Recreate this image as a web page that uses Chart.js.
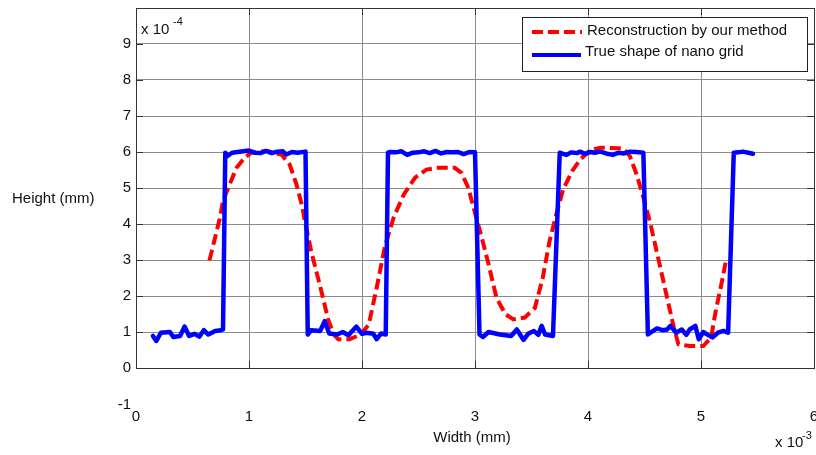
<!DOCTYPE html>
<html><head><meta charset="utf-8">
<script src="https://cdn.jsdelivr.net/npm/chart.js@4.4.0/dist/chart.umd.min.js"></script>
<style>html,body{margin:0;padding:0;background:#fff;}canvas{display:block;}</style>
</head><body>
<canvas id="c" width="816" height="455"></canvas>
<script>
// Units: x in 10^-3 mm, y in 10^-4 mm
const xTickValues = [0, 1, 2, 3, 4, 5, 6];
const yTickValues = [0, 1, 2, 3, 4, 5, 6, 7, 8, 9];
const seriesNames = ['Reconstruction by our method', 'True shape of nano grid'];

const trueX = [0.15,0.18,0.22,0.30,0.33,0.39,0.43,0.47,0.52,0.56,0.60,0.64,0.70,0.75,0.77,
  0.79,0.81,0.85,0.90,0.95,1.00,1.05,1.10,1.15,1.20,1.25,1.30,1.33,1.38,1.43,1.50,
  1.52,1.55,1.63,1.67,1.71,1.78,1.83,1.88,1.95,2.00,2.04,2.10,2.13,2.17,2.21,
  2.23,2.25,2.30,2.35,2.40,2.45,2.50,2.55,2.60,2.65,2.70,2.75,2.80,2.85,2.90,2.95,3.00,
  3.04,3.07,3.12,3.22,3.32,3.37,3.43,3.47,3.52,3.56,3.59,3.62,3.69,
  3.75,3.78,3.81,3.85,3.90,3.93,3.97,4.02,4.06,4.11,4.16,4.22,4.27,4.32,4.37,4.43,4.49,
  4.53,4.57,4.61,4.66,4.70,4.73,4.78,4.83,4.87,4.90,4.95,4.98,5.02,5.06,5.10,5.15,5.20,5.24,
  5.29,5.33,5.37,5.42,5.46];
const trueY = [0.89,0.75,0.98,1.00,0.86,0.89,1.15,0.89,0.95,0.87,1.05,0.93,1.03,1.05,1.07,
  5.98,5.89,5.98,6.00,6.02,6.04,5.98,5.97,6.03,5.97,6.01,6.02,5.93,6.00,5.98,6.01,
  0.93,1.05,1.03,1.30,0.96,0.93,1.00,0.91,1.15,0.95,0.98,0.95,0.80,0.96,0.93,
  5.98,6.00,5.99,6.02,5.92,5.98,5.99,6.02,5.97,6.03,5.96,6.00,5.99,6.00,5.94,6.00,5.99,
  0.93,0.86,1.00,0.93,0.89,1.07,0.78,0.95,1.03,0.92,1.17,0.93,0.89,
  5.98,5.95,5.92,5.99,5.97,6.01,5.95,6.00,5.98,6.01,5.96,5.92,5.98,5.96,6.01,6.00,5.98,
  0.93,1.02,1.10,1.05,1.07,1.17,0.98,1.07,0.92,1.07,1.17,0.80,1.00,0.92,0.85,0.98,1.03,0.98,
  5.98,5.99,6.01,5.98,5.95];

const reconX = [0.65,0.74,0.77,0.83,0.89,0.96,1.02,1.16,1.29,1.36,1.42,1.47,1.50,1.55,1.64,1.70,1.75,1.79,1.89,1.99,
  2.06,2.13,2.20,2.28,2.37,2.47,2.57,2.66,2.82,2.88,2.94,3.00,3.06,3.12,3.19,3.27,3.34,3.44,3.53,3.60,
  3.66,3.72,3.78,3.86,3.93,4.02,4.11,4.31,4.37,4.43,4.49,4.55,4.62,4.70,4.76,4.80,4.90,5.02,5.09,5.13,5.18,5.22];
const reconY = [2.99,4.13,4.64,5.11,5.56,5.84,5.98,6.03,5.92,5.65,5.10,4.50,3.99,3.25,2.14,1.35,0.93,0.80,0.80,0.93,
  1.21,2.23,3.34,4.18,4.82,5.29,5.51,5.56,5.56,5.42,5.01,4.31,3.62,2.88,1.95,1.49,1.35,1.40,1.67,2.51,
  3.53,4.27,4.96,5.47,5.79,6.05,6.12,6.10,5.89,5.38,4.74,4.04,3.07,1.95,1.12,0.66,0.61,0.61,0.85,1.58,2.32,2.97];

const FONT = "'Liberation Sans', Arial, sans-serif";
const zip = (xs, ys) => xs.map((x, i) => ({x, y: ys[i]}));

const extras = {
  id: 'extras',
  beforeDatasetsDraw(chart) {
    const {ctx, chartArea: a, scales: {x, y}} = chart;
    ctx.save();
    ctx.strokeStyle = '#333';
    ctx.lineWidth = 1;
    ctx.beginPath();
    xTickValues.forEach(v => {
      const px = Math.round(x.getPixelForValue(v)) + 0.5;
      ctx.moveTo(px, a.bottom); ctx.lineTo(px, a.bottom - 7);
      ctx.moveTo(px, a.top); ctx.lineTo(px, a.top + 7);
    });
    yTickValues.forEach(v => {
      const py = Math.round(y.getPixelForValue(v)) + 0.5;
      ctx.moveTo(a.left, py); ctx.lineTo(a.left + 7, py);
      ctx.moveTo(a.right, py); ctx.lineTo(a.right - 7, py);
    });
    ctx.stroke();
    ctx.strokeRect(Math.round(a.left) + 0.5, Math.round(a.top) + 0.5, Math.round(a.right - a.left), Math.round(a.bottom - a.top));
    ctx.restore();
  },
  afterDraw(chart) {
    const {ctx, scales: {x, y}} = chart;
    ctx.save();
    // legend
    const lx = 522, ly = 17, lw = 285, lh = 54;
    ctx.fillStyle = '#fff';
    ctx.fillRect(lx, ly, lw, lh);
    ctx.strokeStyle = '#222';
    ctx.lineWidth = 1;
    ctx.strokeRect(lx + 0.5, ly + 0.5, lw, lh);
    ctx.lineWidth = 4;
    ctx.strokeStyle = '#ff0000';
    ctx.setLineDash([11, 5]);
    ctx.beginPath(); ctx.moveTo(532, 32); ctx.lineTo(582, 32); ctx.stroke();
    ctx.setLineDash([]);
    ctx.strokeStyle = '#0000ff';
    ctx.beginPath(); ctx.moveTo(532, 55); ctx.lineTo(581, 55); ctx.stroke();
    ctx.fillStyle = '#111';
    ctx.font = '15px ' + FONT;
    ctx.textBaseline = 'middle';
    ctx.textAlign = 'left';
    ctx.fillText(seriesNames[0], 587, 31);
    ctx.fillText(seriesNames[1], 585, 52);
    // y label
    ctx.fillText('Height (mm)', 12, 199);
    // -1 label
    ctx.textAlign = 'right';
    ctx.fillText('-1', 131, y.getPixelForValue(-1) + 0.5);
    // x title
    ctx.textAlign = 'center';
    ctx.fillText('Width (mm)', 472, 438);
    // exponents
    ctx.textAlign = 'left';
    ctx.fillText('x 10', 141, 30);
    ctx.fillText('x 10', 775, 443);
    ctx.font = '11px ' + FONT;
    ctx.fillText('-4', 173, 22);
    ctx.fillText('-3', 802, 436);
    ctx.restore();
  }
};

new Chart(document.getElementById('c'), {
  type: 'line',
  data: {
    datasets: [
      {label: seriesNames[1], data: zip(trueX, trueY), borderColor: '#0000ff', borderWidth: 4.5,
       pointRadius: 0, tension: 0, fill: false, borderJoinStyle: 'round', borderCapStyle: 'round'},
      {label: seriesNames[0], data: zip(reconX, reconY), borderColor: '#ff0000', borderWidth: 4,
       borderDash: [11, 5], pointRadius: 0, tension: 0, fill: false}
    ]
  },
  options: {
    responsive: false,
    animation: false,
    events: [],
    layout: {padding: {top: 8, right: 2, left: 0, bottom: 0}},
    plugins: {legend: {display: false}, tooltip: {enabled: false}},
    scales: {
      x: {
        type: 'linear', min: 0, max: 6,
        afterFit: s => { s.height = 87; s.paddingLeft = 0; s.paddingRight = 0; },
        afterBuildTicks: s => { s.ticks = xTickValues.map(v => ({value: v})); },
        ticks: {stepSize: 1, padding: 40, color: '#111', font: {family: FONT, size: 15}, maxRotation: 0},
        grid: {color: '#8c8c8c', drawTicks: false, lineWidth: 1},
        border: {display: false}
      },
      y: {
        type: 'linear', min: 0, max: 10,
        afterFit: s => { s.width = 136; s.paddingTop = 0; s.paddingBottom = 0; },
        afterBuildTicks: s => { s.ticks = yTickValues.concat([10]).map(v => ({value: v})); },
        ticks: {padding: 5, color: '#111', font: {family: FONT, size: 15},
                callback: v => (v === 10 ? '' : String(v))},
        grid: {color: '#8c8c8c', drawTicks: false, lineWidth: 1},
        border: {display: false}
      }
    }
  },
  plugins: [extras]
});
</script>
</body></html>
